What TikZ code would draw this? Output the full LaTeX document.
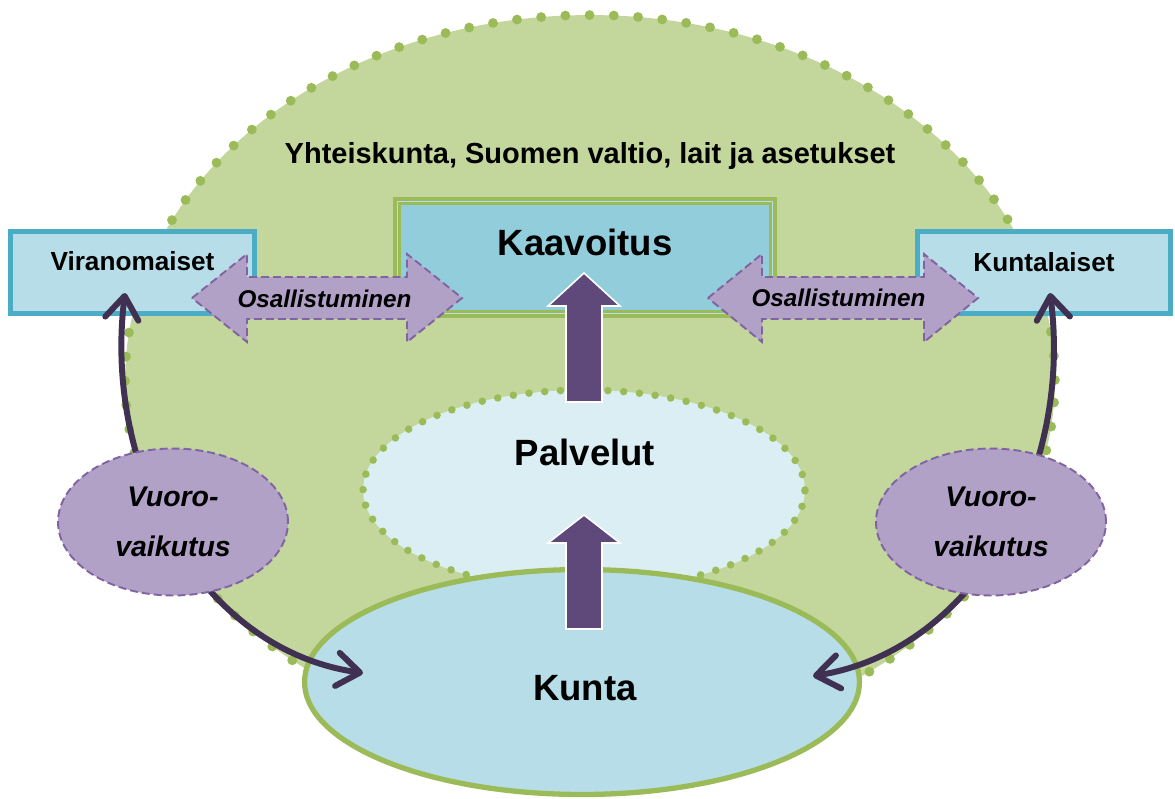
\documentclass[tikz,border=0pt]{standalone}
\usepackage{fontspec}
\setmainfont{Liberation Sans}
\usetikzlibrary{shapes.geometric,arrows.meta}
\definecolor{bggreen}{HTML}{C3D69B}
\definecolor{dotgreen}{HTML}{9BBB59}
\definecolor{kaavfill}{HTML}{92CDDC}
\definecolor{boxfill}{HTML}{B7DDE8}
\definecolor{boxline}{HTML}{4BACC6}
\definecolor{palfill}{HTML}{DAEEF3}
\definecolor{lilac}{HTML}{B2A1C7}
\definecolor{lilacline}{HTML}{8064A2}
\definecolor{blockpurple}{HTML}{5F497A}
\definecolor{darkpurple}{HTML}{403152}
\tikzset{
  dotted ellipse/.style={ellipse, inner sep=0, draw=dotgreen, line cap=round},
  actorbox/.style={rectangle, inner sep=0, fill=boxfill, draw=boxline, line width=2.8pt, minimum width=#1, minimum height=1.64cm},
  boxtext/.style={anchor=base, font=\fontsize{14.9}{17}\selectfont\bfseries},
  bigtext/.style={anchor=base, font=\fontsize{20.8}{24}\selectfont\bfseries},
  lilacshape/.style={fill=lilac, draw=lilacline, line width=1.1pt, dash pattern=on 4.5pt off 2.3pt},
  ostext/.style={anchor=base, font=\fontsize{13.8}{16}\selectfont\bfseries\itshape},
  blockarrow/.style={fill=blockpurple, draw=white, line width=0.9pt},
  interaction/.style={draw=darkpurple, line width=3.4pt, line cap=round,
    {Straight Barb[length=13pt,width=19pt,line cap=round,line join=round]}-{Straight Barb[length=13pt,width=19pt,line cap=round,line join=round]}},
  vuoro/.style={ellipse, inner sep=0, lilacshape, minimum width=4.6cm, minimum height=2.94cm, align=center,
    font=\fontsize{16.2}{28.35}\selectfont\bfseries\itshape}
}
\begin{document}
\begin{tikzpicture}[x=0.02cm,y=-0.02cm]
\useasboundingbox (0,0) rectangle (1175,798);
% society background
\node[dotted ellipse, fill=bggreen, line width=5.6pt, dash pattern=on 0pt off 13.8pt,
      minimum width=18.6cm, minimum height=14.6cm] (soc) at (590,380) {};
\node[anchor=base, font=\fontsize{16.5}{19}\selectfont\bfseries] (soctxt) at (590,163) {Yhteiskunta, Suomen valtio, lait ja asetukset};
% Palvelut
\node[dotted ellipse, fill=palfill, line width=4.3pt, dash pattern=on 0pt off 9pt,
      minimum width=8.84cm, minimum height=4cm] (pal) at (584,490) {};
\node[bigtext] (paltxt) at (585,465) {Palvelut};
% Kunta
\node[ellipse, inner sep=0, fill=boxfill, draw=dotgreen, line width=3pt,
      minimum width=11.1cm, minimum height=4.5cm] (kunta) at (582,682) {};
\node[bigtext] (kuntatxt) at (585,700) {Kunta};
% Kaavoitus
\node[rectangle, inner sep=0, fill=kaavfill, draw=dotgreen, line width=4pt,
      minimum width=7.54cm, minimum height=2.28cm] (kaav) at (585,257.5) {};
\draw[boxfill, line width=0.7pt] ([shift={(4.3,4.3)}]kaav.north west) rectangle ([shift={(-4.3,-4.3)}]kaav.south east);
\draw[dotgreen, line width=1.2pt] ([shift={(6.5,6.5)}]kaav.north west) rectangle ([shift={(-6.5,-6.5)}]kaav.south east);
\node[bigtext] (kaavtxt) at (585,255) {Kaavoitus};
% actor boxes
\node[actorbox=4.88cm] (vir) at (132.5,272.5) {};
\node[boxtext] (virtxt) at (132.5,270) {Viranomaiset};
\node[actorbox=5.06cm] (kl) at (1044,272.5) {};
\node[boxtext] (kltxt) at (1044,271) {Kuntalaiset};
% block arrows
\draw[blockarrow] (566,402) -- (566,306) -- (548,306) -- (584,273) -- (620,306) -- (602,306) -- (602,402) -- cycle;
\draw[blockarrow] (566,629) -- (566,543) -- (548,543) -- (584,515) -- (620,543) -- (602,543) -- (602,629) -- cycle;
% participation double arrows
\draw[lilacshape] (192,298) -- (247,254) -- (247,277) -- (407,277) -- (407,254) -- (462,298)
   -- (407,342) -- (407,319) -- (247,319) -- (247,342) -- cycle;
\node[ostext] (os1) at (324.5,307) {Osallistuminen};
\draw[lilacshape] (708,298) -- (762,254) -- (762,277) -- (924,277) -- (924,254) -- (978,298)
   -- (924,342) -- (924,319) -- (762,319) -- (762,342) -- cycle;
\node[ostext] (os2) at (838.5,306) {Osallistuminen};
% interaction curves
\coordinate (virtip) at (125,293);
\coordinate (kunL) at (363,673);
\coordinate (kltip) at (1050,293);
\coordinate (kunR) at (813,676);
\draw[interaction] (virtip) .. controls (103,470) and (200,650) .. (kunL);
\draw[interaction] (kltip) .. controls (1073,470) and (976,650) .. (kunR);
% Vuorovaikutus ellipses
\node[vuoro] (vl) at (173,522) {Vuoro-\\vaikutus};
\node[vuoro] (vr) at (991,522) {Vuoro-\\vaikutus};
\end{tikzpicture}
\end{document}
